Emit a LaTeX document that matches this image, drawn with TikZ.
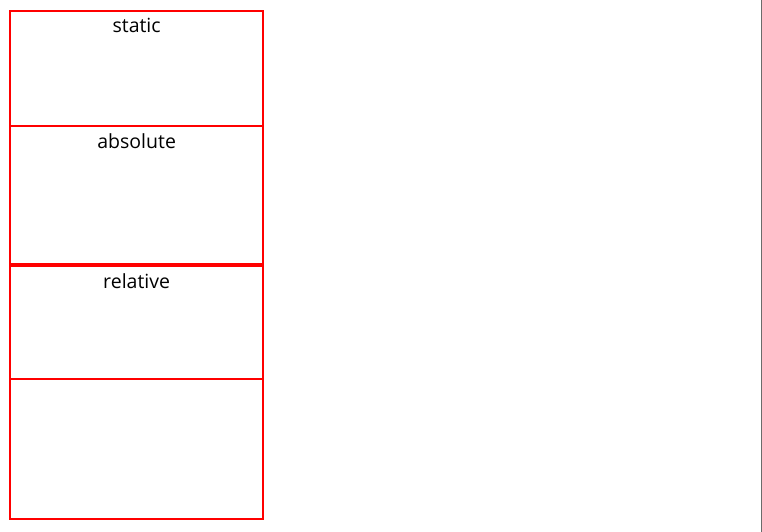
\documentclass[tikz,border=0pt]{standalone}
\usepackage{fontspec}
\setmainfont{Open Sans}
\usetikzlibrary{positioning}

\begin{document}
\begin{tikzpicture}[x=1pt,y=1pt,
  posbox/.style={draw=red, line width=2pt, minimum width=252.7pt, inner sep=0pt, outer sep=0pt},
  postag/.style={anchor=base, inner sep=0pt, font=\fontsize{19.5}{23}\selectfont}]
\useasboundingbox (0,0) rectangle (762,-532);
\draw[black!58, line width=1.5pt] (761.3,0) -- (761.3,-532);
\node[posbox, anchor=north, minimum height=114.5pt] (static) at (136.65,-11.5) {};
\node[posbox, minimum height=137.5pt, below=0pt of static] (absolute) {};
\node[posbox, minimum height=113.5pt, below=2pt of absolute] (relative) {};
\node[posbox, minimum height=139.5pt, below=0pt of relative] (last) {};
\node[postag] (statictag) at ([yshift=-21.5pt]static.north) {static};
\node[postag] (absolutetag) at ([yshift=-22pt]absolute.north) {absolute};
\node[postag] (relativetag) at ([yshift=-22.8pt]relative.north) {relative};
\end{tikzpicture}
\end{document}
